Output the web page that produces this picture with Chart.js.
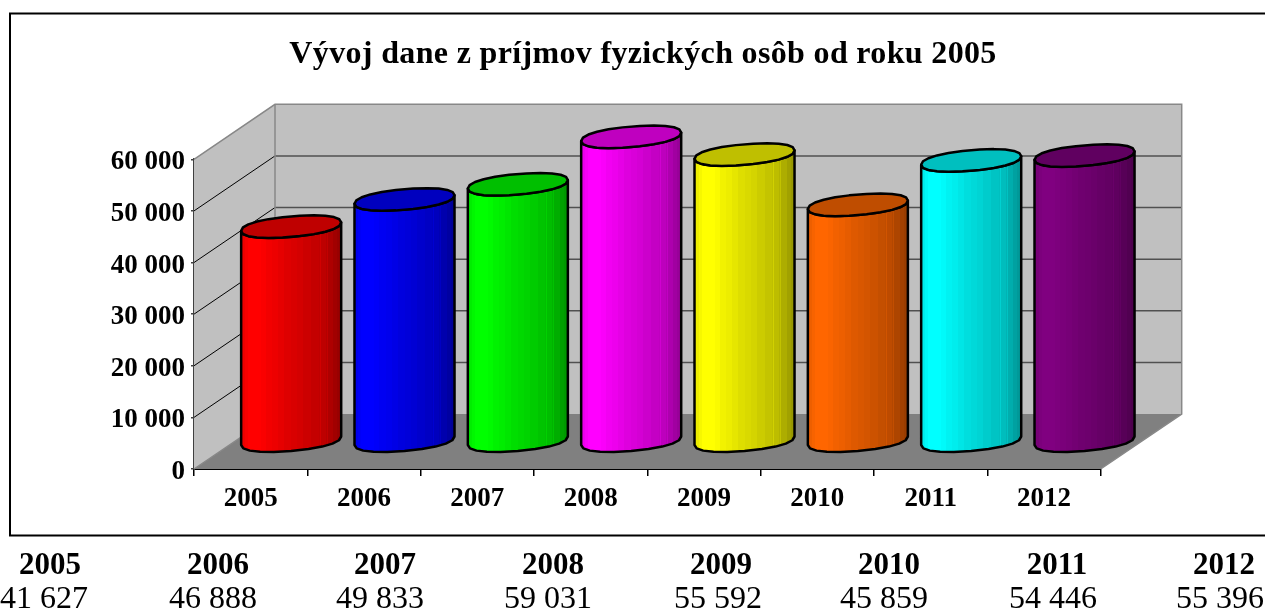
<!DOCTYPE html>
<html lang="sk">
<head>
<meta charset="utf-8">
<title>Vývoj dane z príjmov fyzických osôb od roku 2005</title>
<style>
html,body{margin:0;padding:0;background:#fff;overflow:hidden}
#wrap{position:relative;width:1265px;height:611px}
canvas{display:block}
</style>
<script src="https://cdn.jsdelivr.net/npm/chart.js@4"></script>
</head>
<body>
<div id="wrap"><canvas id="c" width="1265" height="611"></canvas></div>
<script>
const chartTitle = 'Vývoj dane z príjmov fyzických osôb od roku 2005';
const categories = ['2005','2006','2007','2008','2009','2010','2011','2012'];
const taxValues = [41627,46888,49833,59031,55592,45859,54446,55396];
const valueLabels = ['41 627','46 888','49 833','59 031','55 592','45 859','54 446','55 396'];
const yTickLabels = ['0','10 000','20 000','30 000','40 000','50 000','60 000'];
const barColors = ['#FF0000','#0000FF','#00FF00','#FF00FF','#FFFF00','#FF6600','#00FFFF','#800080'];
const headerCenters = [50,218,385,553,721,889,1057,1224];
const valueCenters = [44,213,380,548,718,884,1053,1220];

const SERIF = '"Liberation Serif","Times New Roman",serif';
const DEPTH_X = 81, DEPTH_Y = 55;
const BANDS = [[0,.93],[.04,.97],[.07,1],[.2,.98],[.25,.95],[.31,.93],[.37,.9],[.43,.87],[.5,.85],[.56,.83],[.62,.8],[.7,.77],[.775,.75],[.785,.82],[.795,.74],[.845,.7],[.855,.76],[.865,.68],[.92,.63],[.96,.6],[1,.58]];

function shade(hex,f){
  const n=parseInt(hex.slice(1),16);
  const r=(n>>16&255)*f,g=(n>>8&255)*f,b=(n&255)*f;
  return `rgb(${Math.round(r)},${Math.round(g)},${Math.round(b)})`;
}
function soft(v){ return Math.sign(v)*Math.pow(Math.abs(v),.9); }
function arc(cx,cy,a,from,to,steps){
  const pts=[];
  for(let i=0;i<=steps;i++){
    const t=from+(to-from)*i/steps, u=soft(Math.cos(t)), v=soft(Math.sin(t));
    pts.push([cx+a*u,cy-a*.085*u+a*.205*v]);
  }
  return pts;
}
function trace(ctx,pts,start){
  pts.forEach((p,i)=>{ if(i===0&&start) ctx.moveTo(p[0],p[1]); else ctx.lineTo(p[0],p[1]); });
}

function drawCylinder(ctx,bar,color){
  const a=bar.width/2, cx=bar.x+DEPTH_X/2, yTop=bar.y-DEPTH_Y/2, yBase=bar.base-DEPTH_Y/2;
  const front=arc(cx,yBase,a,0,Math.PI,10), topFront=arc(cx,yTop,a,Math.PI,0,10);
  const g=ctx.createLinearGradient(cx-a,0,cx+a,0);
  BANDS.forEach((s,i)=>{
    g.addColorStop(s[0],shade(color,s[1]));
    if(i<BANDS.length-1) g.addColorStop(BANDS[i+1][0],shade(color,s[1]));
  });
  ctx.beginPath(); trace(ctx,front,true); trace(ctx,topFront,false); ctx.closePath();
  ctx.fillStyle=g; ctx.fill();
  ctx.lineWidth=2.5; ctx.strokeStyle='#000'; ctx.lineJoin='round'; ctx.stroke();
  ctx.beginPath(); trace(ctx,arc(cx,yTop,a,0,Math.PI*2,22),true); ctx.closePath();
  ctx.fillStyle=shade(color,.75); ctx.fill(); ctx.stroke();
}

const scene = {
  id:'scene',
  beforeDraw(chart){
    const ctx=chart.ctx;
    ctx.save();
    ctx.strokeStyle='#000'; ctx.lineWidth=2;
    ctx.beginPath(); ctx.moveTo(1265,13.5); ctx.lineTo(10,13.5); ctx.lineTo(10,535.5); ctx.lineTo(1265,535.5); ctx.stroke();
    ctx.fillStyle='#000'; ctx.textAlign='center'; ctx.textBaseline='alphabetic';
    ctx.font=`bold 32px ${SERIF}`;
    ctx.letterSpacing='0.34px';
    ctx.fillText(chartTitle,643,63);
    ctx.restore();
  },
  beforeDatasetsDraw(chart){
    const ctx=chart.ctx, x=chart.scales.x, y=chart.scales.y;
    const L=x.left,R=x.right,T=y.top,B=y.bottom;
    ctx.save();
    ctx.fillStyle='#C0C0C0';
    ctx.fillRect(L+DEPTH_X,T-DEPTH_Y,R-L,B-T);
    ctx.beginPath(); ctx.moveTo(L,B); ctx.lineTo(L,T); ctx.lineTo(L+DEPTH_X,T-DEPTH_Y); ctx.lineTo(L+DEPTH_X,B-DEPTH_Y); ctx.closePath(); ctx.fill();
    ctx.fillStyle='#808080';
    ctx.beginPath(); ctx.moveTo(L,B); ctx.lineTo(L+DEPTH_X,B-DEPTH_Y); ctx.lineTo(R+DEPTH_X,B-DEPTH_Y); ctx.lineTo(R,B); ctx.closePath(); ctx.fill();
    y.ticks.forEach(t=>{
      const py=y.getPixelForValue(t.value);
      if(t.value>0 && t.value<y.max){
        ctx.strokeStyle='#000'; ctx.lineWidth=1;
        ctx.beginPath(); ctx.moveTo(L,py); ctx.lineTo(L+DEPTH_X,py-DEPTH_Y); ctx.stroke();
        ctx.strokeStyle='#505050'; ctx.lineWidth=1.5;
        ctx.beginPath(); ctx.moveTo(L+DEPTH_X,py-DEPTH_Y); ctx.lineTo(R+DEPTH_X,py-DEPTH_Y); ctx.stroke();
      }
    });
    ctx.strokeStyle='#888'; ctx.lineWidth=1.5;
    ctx.beginPath(); ctx.moveTo(L,T); ctx.lineTo(L+DEPTH_X,T-DEPTH_Y); ctx.lineTo(R+DEPTH_X,T-DEPTH_Y); ctx.lineTo(R+DEPTH_X,B-DEPTH_Y); ctx.lineTo(R,B); ctx.stroke();
    ctx.beginPath(); ctx.moveTo(L+DEPTH_X,T-DEPTH_Y); ctx.lineTo(L+DEPTH_X,B-DEPTH_Y); ctx.lineTo(L,B); ctx.stroke();
    ctx.restore();
  },
  beforeDatasetDraw(chart,args){
    const ctx=chart.ctx;
    ctx.save();
    args.meta.data.forEach(bar=>drawCylinder(ctx,bar,bar.options.backgroundColor));
    ctx.restore();
    return false;
  },
  afterDraw(chart){
    const ctx=chart.ctx;
    ctx.save();
    ctx.fillStyle='#000'; ctx.textAlign='center'; ctx.textBaseline='alphabetic';
    ctx.font=`bold 31px ${SERIF}`;
    categories.forEach((c,i)=>ctx.fillText(c,headerCenters[i],574));
    ctx.font=`32px ${SERIF}`;
    valueLabels.forEach((v,i)=>ctx.fillText(v,valueCenters[i],608));
    ctx.restore();
  }
};

new Chart(document.getElementById('c').getContext('2d'),{
  type:'bar',
  data:{labels:categories,datasets:[{data:taxValues,backgroundColor:barColors,barPercentage:.8826,categoryPercentage:1}]},
  plugins:[scene],
  options:{
    responsive:false,animation:false,events:[],
    layout:{padding:{left:22,top:159.3,right:164.3,bottom:0}},
    plugins:{legend:{display:false},tooltip:{enabled:false},title:{display:false}},
    scales:{
      x:{
        afterFit(s){s.height=142;},
        grid:{display:true,drawOnChartArea:false,color:'#000',lineWidth:1.5,tickLength:7},
        border:{display:true,color:'#000',width:2},
        ticks:{color:'#000',padding:7,maxRotation:0,font:{family:SERIF,size:27,weight:'bold'}}
      },
      y:{
        min:0,max:60000,
        afterFit(s){s.width=172;},
        grid:{display:true,drawOnChartArea:false,color:'#404040',lineWidth:1.5,tickLength:3},
        border:{display:true,color:'#404040',width:2},
        afterBuildTicks(s){s.ticks=yTickLabels.map((_,i)=>({value:i*10000}));},
        ticks:{color:'#000',padding:6,labelOffset:3,callback:(v,i)=>yTickLabels[i],font:{family:SERIF,size:27,weight:'bold'}}
      }
    }
  }
});
</script>
</body>
</html>
